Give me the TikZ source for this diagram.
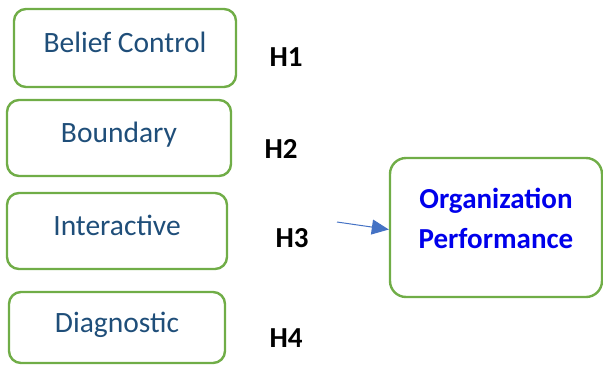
\documentclass[tikz,border=0pt]{standalone}
\usepackage{fontspec}
\setmainfont{Carlito}
\usepackage{tikz}
\usetikzlibrary{positioning,calc,arrows.meta}
\definecolor{boxgreen}{RGB}{112,173,71}
\definecolor{textblue}{RGB}{31,78,121}
\definecolor{orgblue}{RGB}{0,0,235}
\definecolor{arrowblue}{RGB}{68,114,196}

\begin{document}
\begin{tikzpicture}[x=1pt, y=-1pt,
    var/.style={draw=boxgreen, line width=2.4pt, rounded corners=12pt, text=textblue, text height=20pt, text depth=11pt, font=\fontsize{29.5}{32}\selectfont},
    hyp/.style={font=\fontsize{29}{32}\selectfont\bfseries},
    outbox/.style={draw=boxgreen, line width=2.4pt, rounded corners=16pt, minimum width=212pt, minimum height=139pt},
    flow/.style={-{Triangle[length=17pt, width=15pt]}, draw=arrowblue, line width=1pt}]
    \useasboundingbox (0,0) rectangle (603,365);

    % Control systems
    \node [var, minimum width=222pt, minimum height=78pt] (belief) at (125,48) {Belief Control};
    \node [var, minimum width=224pt, minimum height=76pt] (boundary) at (119,138) {Boundary};
    \node [var, minimum width=220pt, minimum height=76pt] (interactive) at (117,231) {Interactive};
    \node [var, minimum width=216pt, minimum height=71pt] (diagnostic) at (117,327.5) {Diagnostic};

    % Hypotheses
    \node [hyp] (h1) at (286,57) {H1};
    \node [hyp] (h2) at (281,149) {H2};
    \node [hyp] (h3) at (292,238) {H3};
    \node [hyp] (h4) at (286,338) {H4};

    % Outcome
    \node [outbox] (org) at (496,227.5) {};
    \node [text=orgblue, font=\fontsize{29}{40}\selectfont\bfseries, align=center] (orgtext) at ([yshift=9pt]org.center) {Organization\\Performance};

    % Arrow
    \coordinate (tail) at (337,222);
    \draw [flow] (tail) -- ([yshift=-2pt]org.west);
\end{tikzpicture}
\end{document}
